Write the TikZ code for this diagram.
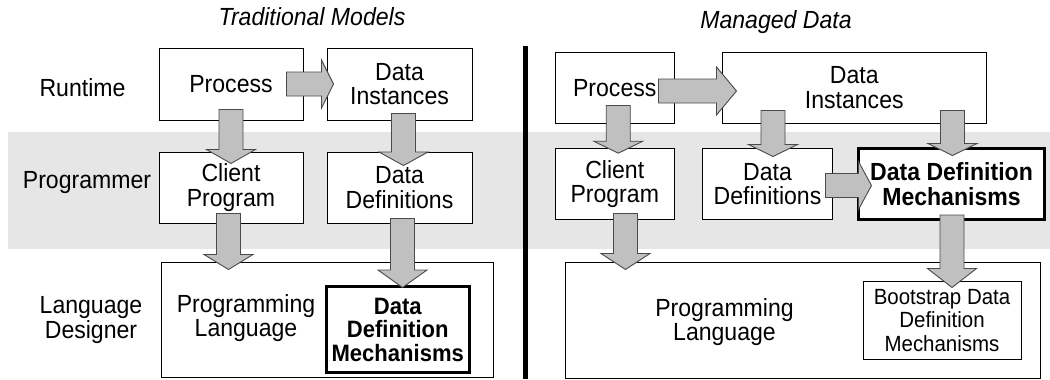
\documentclass[tikz,border=0pt]{standalone}
\usepackage{fontspec}
\setmainfont{Liberation Sans}[FakeStretch=0.93]
\usetikzlibrary{calc}
\definecolor{arrfill}{HTML}{C0C0C0}
\definecolor{arredge}{HTML}{4A4A4A}
\definecolor{band}{HTML}{E6E6E6}
% vertical block arrow: [head length]{start}{tip}
\newcommand\vblock[3][14]{\path[blk] let \p1=#2, \p2=#3 in
  (\x1-12bp,\y1) -- (\x1+12bp,\y1) -- (\x1+12bp,\y2+#1bp) -- (\x1+24.5bp,\y2+#1bp)
  -- (\x1,\y2) -- (\x1-24.5bp,\y2+#1bp) -- (\x1-12bp,\y2+#1bp) -- cycle;}
% horizontal block arrow: [head length]{start}{tip}
\newcommand\hblock[3][13]{\path[blk] let \p1=#2, \p2=#3 in
  (\x1,\y1+12bp) -- (\x2-#1bp,\y1+12bp) -- (\x2-#1bp,\y1+24bp) -- (\x2,\y1)
  -- (\x2-#1bp,\y1-24bp) -- (\x2-#1bp,\y1-12bp) -- (\x1,\y1-12bp) -- cycle;}
\tikzset{
  x=1bp, y=-1bp,
  txt/.style={inner sep=0pt, align=center, font=\fontsize{24.8bp}{24.5bp}\selectfont},
  box/.style={txt, draw=black, line width=1bp, fill=white},
  thickbox/.style={box, line width=3bp},
  blk/.style={draw=arredge, line width=0.9bp, fill=arrfill, line join=miter},
}
\begin{document}
\begin{tikzpicture}
\useasboundingbox (0,0) rectangle (1050,379);
% programmer band
\fill[band] (8,132) rectangle (1050,249);
% divider
\coordinate (divtop) at (525.5,46);
\coordinate (divbot) at (525.5,379);
\draw[line width=5bp] (divtop) -- (divbot);

% titles
\node[txt, font=\fontsize{24.8bp}{24.5bp}\selectfont\itshape, anchor=base] (tleft) at (312,25) {Traditional Models};
\node[txt, font=\fontsize{24.8bp}{24.5bp}\selectfont\itshape, anchor=base] (tright) at (776,28.7) {Managed Data};

% row labels
\node[txt] (lrun) at (82.5,88) {Runtime};
\node[txt] (lprog) at (87,183) {Programmer};
\node[txt] (llang) at (91,320) {Language\\Designer};

% ---------- Traditional Models ----------
\node[box, minimum width=144bp, minimum height=72bp] (lproc) at (231,84) {Process};
\node[box, minimum width=145bp, minimum height=72bp] (ldi) at (399.5,84) {Data\\Instances};
\node[box, minimum width=144bp, minimum height=71bp] (lcp) at (231,187.5) {Client\\Program};
\node[box, minimum width=145bp, minimum height=71bp] (ldd) at (399.5,187.5) {Data\\Definitions};
\node[box, minimum width=331bp, minimum height=115bp] (lpl) at (327.5,319.5) {};
\node[txt] (lpltxt) at (246,318) {Programming\\Language};
\node[thickbox, minimum width=142.5bp, minimum height=86bp,
      font=\fontsize{23.7bp}{23.5bp}\selectfont\bfseries] (lddm) at (397.75,329.5) {Data\\Definition\\Mechanisms};

% ---------- Managed Data ----------
\node[box, minimum width=118.5bp, minimum height=70.6bp] (rproc) at (614.75,87.7) {Process};
\node[box, minimum width=264.5bp, minimum height=70.6bp] (rdi) at (854.25,87.7) {Data\\Instances};
\node[box, minimum width=118.5bp, minimum height=71bp] (rcp) at (614.75,184.2) {Client\\Program};
\node[box, minimum width=130bp, minimum height=71bp] (rdd) at (767.5,184.2) {Data\\Definitions};
\node[thickbox, minimum width=186bp, minimum height=71bp,
      font=\fontsize{24.8bp}{24.5bp}\selectfont\bfseries] (rddm) at (951.5,184) {Data Definition\\Mechanisms};
\node[box, minimum width=475.6bp, minimum height=116bp] (rpl) at (802.8,320) {};
\node[txt] (rpltxt) at (724.5,322) {Programming\\Language};
\node[box, minimum width=158bp, minimum height=78.4bp,
      font=\fontsize{22bp}{23.5bp}\selectfont] (rboot) at (942,320.5) {Bootstrap Data\\Definition\\Mechanisms};

% ---------- block arrows (left) ----------
\hblock[12]{($(lproc.east)+(-17,0)$)}{($(ldi.west)+(7,0)$)}
\vblock[14]{($(lproc.south)+(0,-11)$)}{($(lcp.north)+(0,12)$)}
\vblock[13.5]{($(ldi.south)+(4,-7)$)}{($(ldd.north)+(4,14)$)}
\vblock[15]{($(lcp.south)+(-2.5,-10)$)}{($(lcp.south |- lpl.north)+(-2.5,8)$)}
\vblock[17.5]{($(ldd.south)+(3,-5)$)}{($(ldd.south |- lddm.north)+(3,2.5)$)}

% ---------- block arrows (right) ----------
\hblock[20]{($(rproc.east)+(-16,3.3)$)}{($(rdi.west)+(15,3.3)$)}
\vblock[12]{($(rproc.south)+(3.5,-18)$)}{($(rcp.north)+(3.5,5)$)}
\vblock[12]{($(rdd.north |- rdi.south)+(5.5,-13)$)}{($(rdd.north)+(5.5,8.3)$)}
\vblock[12]{($(rddm.north |- rdi.south)+(1,-13)$)}{($(rddm.north)+(1,8.5)$)}
\hblock[13]{($(rdd.east)+(-7.5,1.3)$)}{($(rddm.west)+(14.5,1.3)$)}
\vblock[16]{($(rcp.south)+(10.75,-6.7)$)}{($(rcp.south |- rpl.north)+(10.75,8)$)}
\vblock[19]{($(rddm.south)+(0.5,-6)$)}{($(rddm.south |- rboot.north)+(0.5,6.7)$)}
\end{tikzpicture}
\end{document}
